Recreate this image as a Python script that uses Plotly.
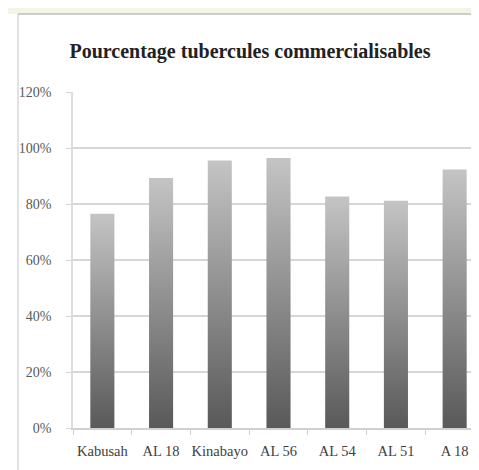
import plotly.graph_objects as go

categories = ["Kabusah", "AL 18", "Kinabayo", "AL 56", "AL 54", "AL 51", "A 18"]
pct_marketable = [0.765, 0.893, 0.955, 0.964, 0.827, 0.812, 0.923]
y_ticks = [0, 0.2, 0.4, 0.6, 0.8, 1.0, 1.2]

W, H = 479, 470
L, R, T, B = 65, 3, 84, 50
BAR_HALF = 0.205
SERIF = "Liberation Serif, Times New Roman, serif"


def px_to_paper(px, py):
    # pixel position -> paper coords (relative to plot area)
    pw, ph = W - L - R, H - T - B
    return (px - L) / pw, (H - B - py) / ph


fig = go.Figure()

for i, (name, v) in enumerate(zip(categories, pct_marketable)):
    fig.add_trace(
        go.Scatter(
            x=[i - BAR_HALF, i - BAR_HALF, i + BAR_HALF, i + BAR_HALF, i - BAR_HALF],
            y=[0, v, v, 0, 0],
            mode="lines",
            fill="toself",
            fillgradient=dict(type="vertical", colorscale=[[0, "#595959"], [1, "#c4c4c4"]]),
            line=dict(width=0),
            name=name,
            hoverinfo="skip",
            showlegend=False,
        )
    )

# frame lines around the picture and faint band at the very top
x0, y0 = px_to_paper(0, 0)
x10, y6 = px_to_paper(10, 6)
x_end, y_end = px_to_paper(W, H)
fig.add_shape(type="rect", xref="paper", yref="paper", x0=x0, x1=x_end, y0=y6, y1=y0,
              fillcolor="#f4f6e4", line=dict(width=0), layer="below")
fig.add_shape(type="line", xref="paper", yref="paper", x0=x10, x1=x_end, y0=y6, y1=y6,
              line=dict(color="#a0a0a0", width=1.2))
fig.add_shape(type="line", xref="paper", yref="paper", x0=x10, x1=x10, y0=y6, y1=y_end,
              line=dict(color="#cfcfcf", width=1.2))

fig.update_layout(
    width=W,
    height=H,
    margin=dict(l=L, r=R, t=T, b=B),
    paper_bgcolor="white",
    plot_bgcolor="white",
    title=dict(
        text="<b>Pourcentage tubercules commercialisables</b>",
        x=242 / W,
        xanchor="center",
        xref="container",
        y=1 - 43 / H,
        yanchor="middle",
        font=dict(family=SERIF, size=20, color="#222222"),
    ),
)

fig.update_xaxes(
    range=[-0.5, len(categories) - 0.5],
    tickvals=list(range(len(categories))),
    ticktext=categories,
    ticks="",
    showgrid=False,
    zeroline=False,
    showline=True,
    linecolor="#d0d0d0",
    linewidth=1.5,
    tickfont=dict(family=SERIF, size=14.5, color="#404040"),
    minor=dict(tick0=0.5, dtick=1, ticks="outside", ticklen=5, tickcolor="#d0d0d0", showgrid=False),
    ticklabelstandoff=9,
)

fig.update_yaxes(
    range=[0, 1.2],
    tickvals=y_ticks,
    tickformat=".0%",
    showgrid=True,
    gridcolor="#d6d6d6",
    gridwidth=1.5,
    zeroline=False,
    showline=True,
    linecolor="#dcdcdc",
    linewidth=1.5,
    ticks="outside",
    ticklen=5,
    tickcolor="#d6d6d6",
    tickfont=dict(family=SERIF, size=14, color="#595959"),
    ticklabelstandoff=12,
)

fig.write_html("out.html")
